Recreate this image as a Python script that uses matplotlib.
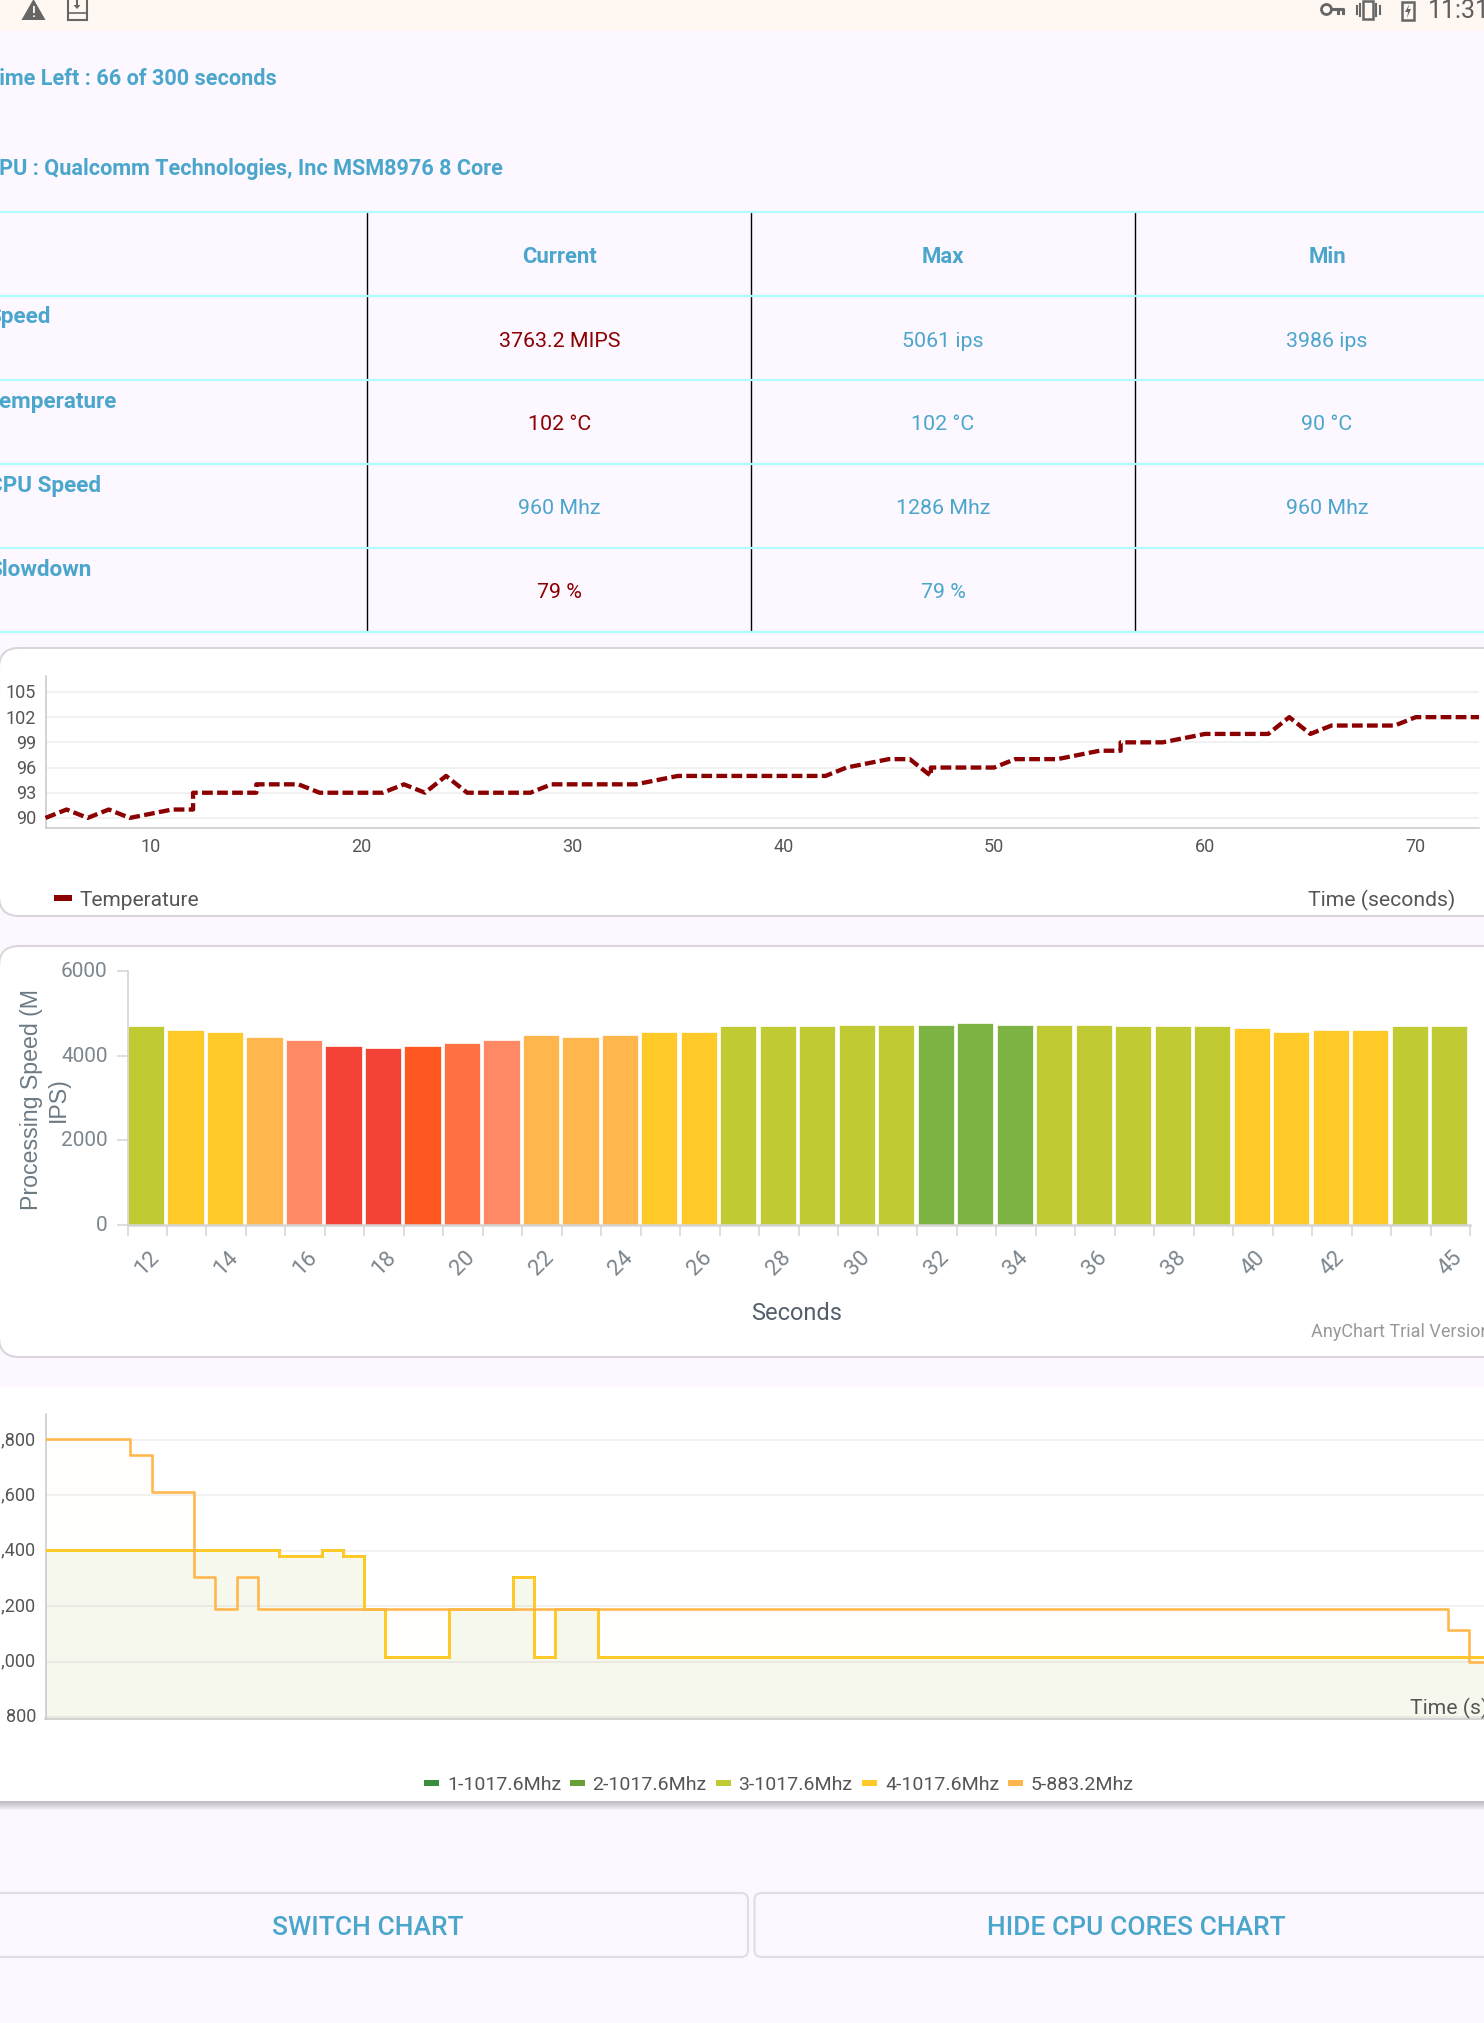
import matplotlib
matplotlib.use("Agg")
import matplotlib.pyplot as plt
from matplotlib.patches import Rectangle, Polygon, FancyBboxPatch, Circle
from matplotlib.transforms import ScaledTranslation

W, H = 1484, 2023
PX = 0.72  # points per pixel at dpi 100
plt.rcParams['font.family'] = ['Roboto', 'DejaVu Sans']

# ---------- data ----------
temp_x = [5, 6, 7, 8, 9, 10, 11, 12, 12, 13, 14, 15, 15, 16, 17, 18, 19, 20, 21, 22, 23, 24, 25, 26, 27, 28, 29, 30, 31,
          32, 33, 34, 35, 36, 37, 38, 39, 40, 41, 42, 43, 44, 45, 46, 47, 47, 48, 49, 50, 51, 52, 53, 54, 55, 56, 56,
          57, 58, 59, 60, 61, 62, 63, 64, 65, 66, 67, 68, 69, 70, 71, 72, 73]
temp_y = [90, 91, 90, 91, 90, 90.5, 91, 91, 93, 93, 93, 93, 94, 94, 94, 93, 93, 93, 93, 94, 93, 95, 93, 93, 93, 93, 94, 94, 94,
          94, 94, 94.5, 95, 95, 95, 95, 95, 95, 95, 95, 96, 96.5, 97, 97, 95, 96, 96, 96, 96, 97, 97, 97, 97.5, 98, 98, 99,
          99, 99, 99.5, 100, 100, 100, 100, 102, 100, 101, 101, 101, 101, 102, 102, 102, 102]
temp_yticks = [90, 93, 96, 99, 102, 105]
temp_xticks = [10, 20, 30, 40, 50, 60, 70]

bar_seconds = list(range(12, 46))
bar_values = [4700, 4610, 4570, 4445, 4360, 4233, 4186, 4233, 4310, 4360, 4485, 4445, 4485, 4570, 4570, 4700, 4700,
              4700, 4736, 4736, 4736, 4783, 4736, 4736, 4736, 4700, 4700, 4700, 4658, 4570, 4610, 4610, 4700, 4700]
bar_colors = ['#C0CA33', '#FFCA28', '#FFCA28', '#FFB74D', '#FF8A65', '#F44336', '#F44336', '#FF5722', '#FF7043',
              '#FF8A65', '#FFB74D', '#FFB74D', '#FFB74D', '#FFCA28', '#FFCA28', '#C0CA33', '#C0CA33', '#C0CA33',
              '#C0CA33', '#C0CA33', '#7CB342', '#7CB342', '#7CB342', '#C0CA33', '#C0CA33', '#C0CA33', '#C0CA33',
              '#C0CA33', '#FFCA28', '#FFCA28', '#FFCA28', '#FFCA28', '#C0CA33', '#C0CA33']
bar_labels = {12: '12', 14: '14', 16: '16', 18: '18', 20: '20', 22: '22', 24: '24', 26: '26', 28: '28', 30: '30',
              32: '32', 34: '34', 36: '36', 38: '38', 40: '40', 42: '42', 45: '45'}
bar_yticks = [0, 2000, 4000, 6000]

core_x = [5, 16, 18, 19, 20, 21, 24, 27, 28, 29, 31, 73]
core_y = [1401.6, 1382.4, 1401.6, 1382.4, 1190.4, 1017.6, 1190.4, 1305.6, 1017.6, 1190.4, 1017.6, 1017.6]
big_x = [5, 9, 10, 12, 13, 14, 15, 71, 72, 73]
big_y = [1804.8, 1747.2, 1612.8, 1305.6, 1190.4, 1305.6, 1190.4, 1113.6, 998.4, 998.4]
freq_ticks = [800, 1000, 1200, 1400, 1600, 1800]
freq_ticklabels = ['800', '1,000', '1,200', '1,400', '1,600', '1,800']
legend_names = ['1-1017.6Mhz', '2-1017.6Mhz', '3-1017.6Mhz', '4-1017.6Mhz', '5-883.2Mhz']
legend_colors = ['#388E3C', '#689F38', '#C0CA33', '#FFCA28', '#FFB74D']

table_heads = ['Current', 'Max', 'Min']
row_names = ['Speed', 'Temperature', 'CPU Speed', 'Slowdown']
table_rows = [['3763.2 MIPS', '5061 ips', '3986 ips'],
              ['102 °C', '102 °C', '90 °C'],
              ['960 Mhz', '1286 Mhz', '960 Mhz'],
              ['79 %', '79 %', '']]
red_cells = [(0, 0), (1, 0), (3, 0)]

# ---------- page ----------
BG = '#FDF7FF'
BLUE = '#4BA6CB'
DRED = '#8B0000'
fig = plt.figure(figsize=(W / 100, H / 100), dpi=100, facecolor=BG)
page = fig.add_axes([0, 0, 1, 1], zorder=0)
page.set_xlim(0, W)
page.set_ylim(H, 0)
page.axis('off')


def axes_px(x0, y0, x1, y1, **kw):
    return fig.add_axes([x0 / W, 1 - y1 / H, (x1 - x0) / W, (y1 - y0) / H], zorder=2, facecolor='none', **kw)


def raise_labels(labels, px=1.5):
    off = ScaledTranslation(0, px / 100, fig.dpi_scale_trans)
    for lab in labels:
        lab.set_transform(lab.get_transform() + off)


# status bar
page.add_patch(Rectangle((0, 0), W, 30.5, color='#FFF7F1', lw=0))
ICON = '#666666'
page.add_patch(Polygon([(21.5, 20), (33.5, -1), (45.5, 20)], color=ICON, lw=0))
page.text(33.5, 12.5, '!', color='#FFF7F1', fontsize=10, fontweight='bold', ha='center', va='center')
page.add_patch(Rectangle((68, -3), 18.5, 23, fill=False, ec=ICON, lw=1.5))
page.plot([68, 86.5], [13, 13], color=ICON, lw=1.2)
page.plot([77, 77], [0, 7], color=ICON, lw=1.5)
page.add_patch(Polygon([(73.5, 5), (80.5, 5), (77, 9)], color=ICON, lw=0))
page.add_patch(Circle((1326.5, 9.5), 5, fill=False, ec=ICON, lw=2))
page.plot([1331, 1343, 1343], [9, 9, 13], color=ICON, lw=2.2)
page.plot([1337.5, 1337.5], [9, 13], color=ICON, lw=2.2)
page.add_patch(Rectangle((1363, 1), 10, 18, fill=False, ec=ICON, lw=1.8))
for xv, (a, b) in zip([1357, 1360, 1376, 1380], [(6, 14), (4, 16), (4, 16), (6, 14)]):
    page.plot([xv, xv], [a, b], color=ICON, lw=1.5)
page.add_patch(Rectangle((1402, 2), 12, 18, fill=False, ec=ICON, lw=1.8))
page.add_patch(Polygon([(1409.5, 4), (1405, 12), (1408, 12), (1407, 18), (1411, 9), (1408, 9)], color=ICON, lw=0))
page.text(1428, 11, '11:31', color='#5F5F5F', fontsize=18, ha='left', va='center', clip_on=False)

# headline text
page.text(277, 79, 'Time Left : 66 of 300 seconds', color=BLUE, fontsize=15.6, fontweight='bold', ha='right', va='center')
page.text(503, 168.5, 'CPU : Qualcomm Technologies, Inc MSM8976 8 Core', color=BLUE, fontsize=15.6, fontweight='bold',
          ha='right', va='center')

# table
row_lines = [212, 296, 380, 464, 548, 632]
for xv in [367, 750.5, 1134.5]:
    page.plot([xv, xv], [row_lines[0], row_lines[-1]], color='black', lw=1.0, solid_capstyle='butt')
for yv in row_lines:
    page.plot([0, W], [yv, yv], color='#AFFFFF', lw=1.6)
col_centers = [559.5, 943, 1327]
for cx, head in zip(col_centers, table_heads):
    page.text(cx, 257, head, color=BLUE, fontsize=15.9, fontweight='bold', ha='center', va='center')
row_ends = [51, 117, 101, 92]
row_label_y = [317, 402, 485.5, 569.5]
row_value_y = [341, 424.5, 508.5, 592.5]
for i, name in enumerate(row_names):
    page.text(row_ends[i], row_label_y[i], name, color=BLUE, fontsize=16.2, fontweight='bold', ha='right', va='center')
    for j, cx in enumerate(col_centers):
        col = DRED if (i, j) in red_cells else BLUE
        page.text(cx, row_value_y[i], table_rows[i][j], color=col, fontsize=15.4, ha='center', va='center')

# cards
CARD_EDGE = '#DAD6DC'
for top, bottom in [(648, 916), (946, 1357)]:
    page.add_patch(FancyBboxPatch((-1, top), W + 60, bottom - top, boxstyle='round,pad=0,rounding_size=20',
                                  fc='white', ec=CARD_EDGE, lw=1.5))
for k in range(10):
    page.add_patch(Rectangle((0, 1800), W, 10 - k, color='#8A8490', alpha=0.07, lw=0))
page.add_patch(Rectangle((0, 1387), W, 414, color='white', lw=0))

# ---------- temperature chart ----------
GRID = '#EEEEEE'
AXLINE = '#C8C8C8'
TXT = '#555555'
ax1 = axes_px(45.5, 676, 1479, 828)
ax1.set_xlim(5, 73)
ax1.set_ylim(88.8, 106.9)
ax1.plot(temp_x, temp_y, color=DRED, lw=4.3 * PX, linestyle=(0, (2.5, 1.0)), clip_on=False, zorder=3)
ax1.set_yticks(temp_yticks)
ax1.set_xticks(temp_xticks)
ax1.grid(axis='y', color=GRID, lw=1.1)
ax1.set_axisbelow(True)
ax1.tick_params(axis='both', length=0, labelsize=13, labelcolor=TXT)
ax1.tick_params(axis='y', pad=9.5 * PX)
ax1.tick_params(axis='x', pad=10.5 * PX)
raise_labels(ax1.get_yticklabels(), 0.5)
for s in ['top', 'right']:
    ax1.spines[s].set_visible(False)
for s in ['left', 'bottom']:
    ax1.spines[s].set_color(AXLINE)
    ax1.spines[s].set_linewidth(1.1)
page.add_patch(Rectangle((54, 895), 18, 6, color=DRED, lw=0))
page.text(80, 900, 'Temperature', color=TXT, fontsize=15, ha='left', va='center')
page.text(1455, 900.5, 'Time (seconds)', color=TXT, fontsize=15.2, ha='right', va='center')

# ---------- bar chart ----------
TICKTXT = '#7C868E'
ax2 = axes_px(127.5, 971, 1470.4, 1225)
positions = list(range(len(bar_seconds)))
bar_shift = -0.035
ax2.bar([p + bar_shift for p in positions], bar_values, width=0.92, color=bar_colors, edgecolor='white',
        linewidth=0.5, zorder=2)
ax2.set_xlim(-0.5, len(bar_seconds) - 0.5)
ax2.set_ylim(0, 6000)
ax2.set_yticks(bar_yticks)
ax2.set_xticks([p - 0.5 for p in positions] + [positions[-1] + 0.5])
ax2.set_xticklabels([])
label_pos = [p for p, s in zip(positions, bar_seconds) if s in bar_labels]
ax2.set_xticks(label_pos, minor=True)
ax2.set_xticklabels([bar_labels[bar_seconds[p]] for p in label_pos], minor=True, rotation=45, rotation_mode='anchor',
                    ha='center', va='center')
ax2.tick_params(axis='x', which='minor', length=0, pad=38.5 * PX, labelsize=16, labelcolor=TICKTXT)
ax2.tick_params(axis='x', which='major', length=11 * PX, width=1.1, color='#D5D5D5')
ax2.tick_params(axis='y', length=11 * PX, width=1.1, color='#D5D5D5', pad=9 * PX, labelsize=15, labelcolor=TICKTXT)
raise_labels(ax2.get_yticklabels())
for s in ['top', 'right']:
    ax2.spines[s].set_visible(False)
ax2.spines['left'].set_color('#D0D0D0')
ax2.spines['left'].set_linewidth(1.1)
ax2.spines['bottom'].set_color('#D5D5D5')
ax2.spines['bottom'].set_linewidth(1.8)
page.text(44.5, 1100, 'Processing Speed (M\nIPS)', color='#6C7A85', fontsize=16.7, family='Liberation Sans', rotation=90,
          ha='center', va='center', multialignment='center', linespacing=1.22)
page.text(797, 1313.5, 'Seconds', color='#545F6B', fontsize=17, ha='center', va='center')
page.text(1311, 1332, 'AnyChart Trial Version', color='#999999', fontsize=13, ha='left', va='center')

# ---------- frequency chart ----------
ax3 = axes_px(45.5, 1414, W, 1719)
ax3.set_xlim(5, 72.7)
ax3.set_ylim(793, 1894)
line_colors = legend_colors
for c in line_colors[:4]:
    ax3.fill_between(core_x, core_y, 793, step='post', color=c, alpha=0.015, lw=0, zorder=1)
    ax3.step(core_x, core_y, where='post', color=c, lw=3.0 * PX, zorder=3)
ax3.fill_between(big_x, big_y, 793, step='post', color=line_colors[4], alpha=0.012, lw=0, zorder=1)
ax3.step(big_x, big_y, where='post', color=line_colors[4], lw=2.6 * PX, zorder=4)
ax3.set_xticks([])
ax3.set_yticks(freq_ticks)
ax3.set_yticklabels(freq_ticklabels)
ax3.grid(axis='y', color=GRID, lw=1.1, zorder=0)
ax3.set_axisbelow(True)
ax3.tick_params(axis='y', length=0, pad=9.5 * PX, labelsize=13, labelcolor=TXT)
raise_labels(ax3.get_yticklabels(), 2)
for s in ['top', 'right']:
    ax3.spines[s].set_visible(False)
for s in ['left', 'bottom']:
    ax3.spines[s].set_color(AXLINE)
    ax3.spines[s].set_linewidth(1.1)
fig.text(1410 / W, 1 - 1708.5 / H, 'Time (s)', color=TXT, fontsize=15.2, ha='left', va='center', zorder=5)
swatch_x = [424, 569.5, 715.5, 862, 1008]
for sx, name, c in zip(swatch_x, legend_names, legend_colors):
    page.add_patch(Rectangle((sx, 1780), 15, 5.5, color=c, lw=0))
    page.text(sx + 23, 1784.5, name, color=TXT, fontsize=14, ha='left', va='center')

# ---------- buttons ----------
BTN = '#E2DCE4'
page.add_patch(FancyBboxPatch((-30, 1893), 778, 64, boxstyle='round,pad=0,rounding_size=7', fc=BG, ec=BTN, lw=1.5))
page.add_patch(FancyBboxPatch((754.5, 1893), 780, 64, boxstyle='round,pad=0,rounding_size=7', fc=BG, ec=BTN, lw=1.5))
page.text(368, 1928, 'SWITCH CHART', color=BLUE, fontsize=19, fontweight='medium', ha='center', va='center')
page.text(1136, 1928, 'HIDE CPU CORES CHART', color=BLUE, fontsize=19, fontweight='medium', ha='center', va='center')

fig.savefig('out.png', dpi=100, facecolor=BG)
